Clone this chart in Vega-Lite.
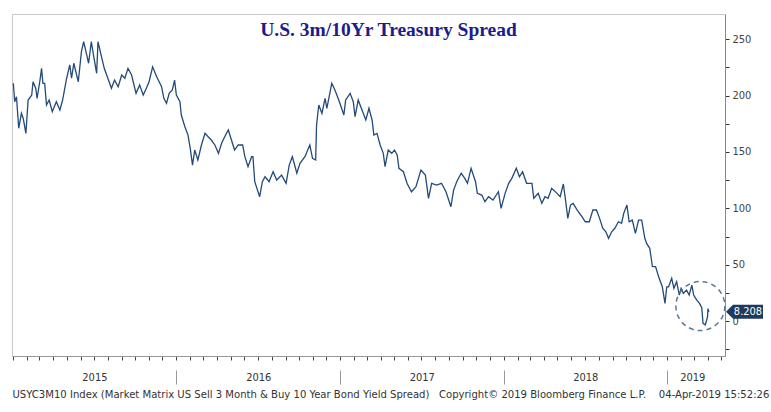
{
  "$schema": "https://vega.github.io/schema/vega-lite/v6.json",
  "width": 713,
  "height": 342,
  "autosize": {"type": "none"},
  "padding": {"left": 12, "top": 14, "right": 46, "bottom": 56},
  "background": "white",
  "config": {
    "view": {"stroke": "#c8c8c8"},
    "font": "DejaVu Sans Condensed, Liberation Sans Narrow, DejaVu Sans",
    "axis": {"labelFont": "DejaVu Sans Condensed, Liberation Sans Narrow, DejaVu Sans", "titleFont": "DejaVu Sans Condensed, Liberation Sans Narrow, DejaVu Sans"}
  },
  "title": {
    "text": "U.S. 3m/10Yr Treasury Spread",
    "font": "Liberation Serif",
    "fontSize": 19.5,
    "fontWeight": "bold",
    "color": "#1c1c8a",
    "anchor": "middle",
    "frame": "group",
    "baseline": "alphabetic",
    "offset": -41,
    "dx": 20
  },
  "datasets": {
    "series": [
      {"date": "2015-01-02", "v": 210.9}, {"date": "2015-01-05", "v": 194.6}, {"date": "2015-01-09", "v": 199.0},
      {"date": "2015-01-14", "v": 171.0}, {"date": "2015-01-20", "v": 184.3}, {"date": "2015-01-24", "v": 179.9},
      {"date": "2015-01-30", "v": 166.5}, {"date": "2015-02-04", "v": 196.1}, {"date": "2015-02-12", "v": 200.5},
      {"date": "2015-02-15", "v": 212.3}, {"date": "2015-02-21", "v": 206.5}, {"date": "2015-02-24", "v": 197.6},
      {"date": "2015-03-02", "v": 212.3}, {"date": "2015-03-06", "v": 224.2}, {"date": "2015-03-09", "v": 210.9},
      {"date": "2015-03-13", "v": 210.9}, {"date": "2015-03-17", "v": 191.7}, {"date": "2015-03-23", "v": 196.1},
      {"date": "2015-03-30", "v": 185.7}, {"date": "2015-04-08", "v": 194.6}, {"date": "2015-04-16", "v": 187.2},
      {"date": "2015-04-22", "v": 196.1}, {"date": "2015-05-01", "v": 215.4}, {"date": "2015-05-08", "v": 227.2},
      {"date": "2015-05-12", "v": 215.4}, {"date": "2015-05-17", "v": 228.7}, {"date": "2015-05-27", "v": 212.3},
      {"date": "2015-06-03", "v": 239.0}, {"date": "2015-06-08", "v": 247.8}, {"date": "2015-06-15", "v": 236.0},
      {"date": "2015-06-19", "v": 228.7}, {"date": "2015-06-25", "v": 247.8}, {"date": "2015-06-30", "v": 236.0},
      {"date": "2015-07-07", "v": 219.8}, {"date": "2015-07-10", "v": 247.8}, {"date": "2015-07-17", "v": 236.0},
      {"date": "2015-07-24", "v": 224.2}, {"date": "2015-08-01", "v": 215.4}, {"date": "2015-08-09", "v": 206.5},
      {"date": "2015-08-16", "v": 213.8}, {"date": "2015-08-24", "v": 207.9}, {"date": "2015-09-01", "v": 218.3},
      {"date": "2015-09-08", "v": 215.4}, {"date": "2015-09-15", "v": 224.2}, {"date": "2015-09-23", "v": 218.3},
      {"date": "2015-10-03", "v": 202.0}, {"date": "2015-10-11", "v": 209.4}, {"date": "2015-10-19", "v": 200.5},
      {"date": "2015-10-26", "v": 206.5}, {"date": "2015-11-01", "v": 212.3}, {"date": "2015-11-09", "v": 225.6},
      {"date": "2015-11-18", "v": 216.8}, {"date": "2015-11-29", "v": 207.9}, {"date": "2015-12-04", "v": 197.6},
      {"date": "2015-12-10", "v": 193.2}, {"date": "2015-12-16", "v": 202.0}, {"date": "2015-12-23", "v": 205.0},
      {"date": "2015-12-28", "v": 213.8}, {"date": "2016-01-01", "v": 200.5}, {"date": "2016-01-09", "v": 194.6},
      {"date": "2016-01-12", "v": 182.8}, {"date": "2016-01-20", "v": 172.4}, {"date": "2016-01-27", "v": 165.0},
      {"date": "2016-02-01", "v": 153.2}, {"date": "2016-02-06", "v": 138.4}, {"date": "2016-02-11", "v": 151.7},
      {"date": "2016-02-18", "v": 142.9}, {"date": "2016-02-26", "v": 156.2}, {"date": "2016-03-05", "v": 166.5},
      {"date": "2016-03-12", "v": 163.5}, {"date": "2016-03-19", "v": 160.6}, {"date": "2016-03-27", "v": 156.2},
      {"date": "2016-04-04", "v": 148.8}, {"date": "2016-04-11", "v": 157.7}, {"date": "2016-04-18", "v": 163.5},
      {"date": "2016-04-26", "v": 169.5}, {"date": "2016-05-03", "v": 160.6}, {"date": "2016-05-10", "v": 151.7},
      {"date": "2016-05-18", "v": 156.2}, {"date": "2016-05-28", "v": 156.2}, {"date": "2016-06-02", "v": 145.8},
      {"date": "2016-06-09", "v": 136.9}, {"date": "2016-06-17", "v": 145.8}, {"date": "2016-06-20", "v": 145.8},
      {"date": "2016-06-24", "v": 123.6}, {"date": "2016-07-05", "v": 110.3}, {"date": "2016-07-11", "v": 123.6},
      {"date": "2016-07-17", "v": 128.0}, {"date": "2016-07-26", "v": 123.6}, {"date": "2016-08-04", "v": 132.5},
      {"date": "2016-08-12", "v": 125.1}, {"date": "2016-08-23", "v": 129.5}, {"date": "2016-09-02", "v": 122.2},
      {"date": "2016-09-09", "v": 138.4}, {"date": "2016-09-16", "v": 145.8}, {"date": "2016-09-26", "v": 131.1},
      {"date": "2016-10-03", "v": 139.9}, {"date": "2016-10-14", "v": 145.8}, {"date": "2016-10-25", "v": 156.2},
      {"date": "2016-10-31", "v": 144.4}, {"date": "2016-11-07", "v": 142.9}, {"date": "2016-11-09", "v": 173.9},
      {"date": "2016-11-14", "v": 191.7}, {"date": "2016-11-21", "v": 184.3}, {"date": "2016-11-28", "v": 197.6},
      {"date": "2016-12-02", "v": 188.7}, {"date": "2016-12-13", "v": 210.9}, {"date": "2016-12-20", "v": 205.0},
      {"date": "2016-12-30", "v": 194.6}, {"date": "2017-01-09", "v": 182.8}, {"date": "2017-01-13", "v": 196.1},
      {"date": "2017-01-23", "v": 202.0}, {"date": "2017-01-30", "v": 194.6}, {"date": "2017-02-03", "v": 181.3},
      {"date": "2017-02-10", "v": 196.1}, {"date": "2017-02-17", "v": 188.7}, {"date": "2017-02-27", "v": 178.4},
      {"date": "2017-03-06", "v": 188.7}, {"date": "2017-03-13", "v": 178.4}, {"date": "2017-03-17", "v": 165.0},
      {"date": "2017-03-24", "v": 166.5}, {"date": "2017-03-31", "v": 156.2}, {"date": "2017-04-07", "v": 148.8},
      {"date": "2017-04-11", "v": 136.9}, {"date": "2017-04-18", "v": 151.7}, {"date": "2017-04-26", "v": 148.8},
      {"date": "2017-05-02", "v": 151.7}, {"date": "2017-05-08", "v": 147.3}, {"date": "2017-05-12", "v": 135.5},
      {"date": "2017-05-22", "v": 132.5}, {"date": "2017-05-30", "v": 122.2}, {"date": "2017-06-09", "v": 114.7},
      {"date": "2017-06-19", "v": 119.2}, {"date": "2017-06-30", "v": 134.0}, {"date": "2017-07-10", "v": 129.5},
      {"date": "2017-07-17", "v": 108.9}, {"date": "2017-07-24", "v": 122.2}, {"date": "2017-08-04", "v": 120.7},
      {"date": "2017-08-15", "v": 122.2}, {"date": "2017-08-25", "v": 114.7}, {"date": "2017-09-05", "v": 101.4},
      {"date": "2017-09-11", "v": 116.2}, {"date": "2017-09-18", "v": 123.6}, {"date": "2017-09-28", "v": 131.1},
      {"date": "2017-10-06", "v": 126.6}, {"date": "2017-10-12", "v": 122.2}, {"date": "2017-10-20", "v": 135.5},
      {"date": "2017-10-30", "v": 123.6}, {"date": "2017-11-03", "v": 113.3}, {"date": "2017-11-13", "v": 111.8},
      {"date": "2017-11-20", "v": 105.9}, {"date": "2017-11-28", "v": 110.3}, {"date": "2017-12-08", "v": 107.4},
      {"date": "2017-12-20", "v": 114.7}, {"date": "2017-12-26", "v": 100.0}, {"date": "2018-01-04", "v": 113.3},
      {"date": "2018-01-12", "v": 122.2}, {"date": "2018-01-19", "v": 126.6}, {"date": "2018-01-29", "v": 135.5},
      {"date": "2018-02-05", "v": 128.0}, {"date": "2018-02-12", "v": 132.5}, {"date": "2018-02-21", "v": 122.2},
      {"date": "2018-03-05", "v": 122.2}, {"date": "2018-03-09", "v": 108.9}, {"date": "2018-03-19", "v": 113.3},
      {"date": "2018-03-27", "v": 104.4}, {"date": "2018-04-03", "v": 110.3}, {"date": "2018-04-10", "v": 108.9},
      {"date": "2018-04-18", "v": 117.7}, {"date": "2018-04-30", "v": 113.3}, {"date": "2018-05-07", "v": 110.3},
      {"date": "2018-05-14", "v": 121.6}, {"date": "2018-05-18", "v": 110.3}, {"date": "2018-05-24", "v": 91.1},
      {"date": "2018-05-30", "v": 102.9}, {"date": "2018-06-05", "v": 104.4}, {"date": "2018-06-14", "v": 98.5},
      {"date": "2018-06-25", "v": 92.5}, {"date": "2018-07-02", "v": 88.1}, {"date": "2018-07-11", "v": 88.1},
      {"date": "2018-07-19", "v": 98.5}, {"date": "2018-07-27", "v": 98.5}, {"date": "2018-08-03", "v": 91.1},
      {"date": "2018-08-10", "v": 82.3}, {"date": "2018-08-17", "v": 79.2}, {"date": "2018-08-23", "v": 73.4},
      {"date": "2018-08-30", "v": 79.2}, {"date": "2018-09-06", "v": 82.3}, {"date": "2018-09-14", "v": 88.1},
      {"date": "2018-09-21", "v": 86.7}, {"date": "2018-09-26", "v": 95.6}, {"date": "2018-10-03", "v": 102.9},
      {"date": "2018-10-08", "v": 88.1}, {"date": "2018-10-15", "v": 89.6}, {"date": "2018-10-22", "v": 77.8},
      {"date": "2018-10-29", "v": 89.6}, {"date": "2018-11-05", "v": 89.6}, {"date": "2018-11-12", "v": 73.4},
      {"date": "2018-11-16", "v": 68.9}, {"date": "2018-11-23", "v": 64.5}, {"date": "2018-11-29", "v": 48.2},
      {"date": "2018-12-06", "v": 48.2}, {"date": "2018-12-14", "v": 37.9}, {"date": "2018-12-21", "v": 30.4},
      {"date": "2018-12-27", "v": 15.7}, {"date": "2018-12-31", "v": 30.4}, {"date": "2019-01-04", "v": 30.4},
      {"date": "2019-01-11", "v": 37.9}, {"date": "2019-01-16", "v": 29.0}, {"date": "2019-01-22", "v": 34.9},
      {"date": "2019-01-28", "v": 23.1}, {"date": "2019-02-01", "v": 29.0}, {"date": "2019-02-06", "v": 24.6},
      {"date": "2019-02-13", "v": 27.5}, {"date": "2019-02-19", "v": 23.1}, {"date": "2019-02-25", "v": 31.9},
      {"date": "2019-03-01", "v": 23.1}, {"date": "2019-03-08", "v": 18.6}, {"date": "2019-03-14", "v": 15.7},
      {"date": "2019-03-19", "v": 12.0}, {"date": "2019-03-22", "v": -2.0}, {"date": "2019-03-27", "v": -3.5},
      {"date": "2019-04-01", "v": 3.8}, {"date": "2019-04-02", "v": 11.0}, {"date": "2019-04-04", "v": 8.208}
    ],
    "circle": [{"date": "2019-03-16", "v": 13.3}],
    "last": [{"date": "2019-05-10", "v": 8.208, "label": "8.208"}]
  },
  "encoding": {
    "y": {
      "field": "v",
      "type": "quantitative",
      "scale": {"domain": [-31, 272.4], "nice": false, "zero": false},
      "axis": {
        "orient": "right",
        "values": [-25, 0, 25, 50, 75, 100, 125, 150, 175, 200, 225, 250],
        "labelExpr": "datum.value % 50 === 0 ? datum.label : ''",
        "tickSize": 4,
        "tickColor": "#333",
        "domainColor": "#888",
        "labelColor": "#444",
        "labelFontSize": 11,
        "labelPadding": 3,
        "grid": false,
        "title": null
      }
    }
  },
  "layer": [
    {
      "data": {"name": "series"},
      "mark": {"type": "line", "color": "#234a78", "strokeWidth": 1.3},
      "encoding": {
        "x": {
          "field": "date",
          "type": "temporal",
          "scale": {"type": "utc", "domain": [{"year": 2014, "month": 12, "date": 30, "utc": true}, {"year": 2019, "month": 5, "date": 10, "utc": true}]},
          "axis": {
            "orient": "bottom",
            "tickCount": {"interval": "month", "step": 1},
            "labels": false,
            "tickSize": 4,
            "tickColor": "#444",
            "domainColor": "#999",
            "grid": false,
            "title": null
          }
        }
      }
    },
    {
      "data": {"name": "circle"},
      "mark": {"type": "point", "shape": "circle", "size": 2400, "filled": false, "stroke": "#5b7596", "strokeWidth": 1.5, "strokeDash": [5, 4], "opacity": 1},
      "encoding": {
        "x": {
          "field": "date",
          "type": "temporal",
          "scale": {"type": "utc", "domain": [{"year": 2014, "month": 12, "date": 30, "utc": true}, {"year": 2019, "month": 5, "date": 10, "utc": true}]},
          "axis": {
            "orient": "bottom",
            "values": [{"year": 2016, "month": 1, "date": 1, "utc": true}, {"year": 2017, "month": 1, "date": 1, "utc": true}, {"year": 2018, "month": 1, "date": 1, "utc": true}, {"year": 2019, "month": 1, "date": 1, "utc": true}],
            "labels": false,
            "domain": false,
            "tickSize": 14,
            "offset": 14,
            "tickColor": "#999",
            "grid": false,
            "title": null
          }
        }
      }
    },
    {
      "data": {"name": "last"},
      "mark": {"type": "point", "shape": "M1,0L8,-7L38,-7L38,7L8,7Z", "size": 4, "filled": true, "fill": "#1e3a5c", "strokeWidth": 0, "opacity": 1},
      "encoding": {
        "x": {
          "field": "date",
          "type": "temporal",
          "scale": {"type": "utc", "domain": [{"year": 2014, "month": 12, "date": 30, "utc": true}, {"year": 2019, "month": 5, "date": 10, "utc": true}]},
          "axis": {
            "orient": "bottom",
            "values": [{"year": 2015, "month": 7, "date": 2, "utc": true}, {"year": 2016, "month": 7, "date": 2, "utc": true}, {"year": 2017, "month": 7, "date": 2, "utc": true}, {"year": 2018, "month": 7, "date": 2, "utc": true}, {"year": 2019, "month": 2, "date": 26, "utc": true}],
            "labelExpr": "utcFormat(datum.value, '%Y')",
            "labelFlush": false,
            "labelOverlap": false,
            "ticks": false,
            "domain": false,
            "labelPadding": 15,
            "labelFontSize": 11,
            "labelColor": "#333",
            "grid": false,
            "title": "USYC3M10 Index (Market Matrix US Sell 3 Month & Buy 10 Year Bond Yield Spread)\u00a0\u00a0 Copyright\u00a9 2019 Bloomberg Finance L.P.\u00a0\u00a0\u00a0 04-Apr-2019 15:52:26",
            "titleX": 0,
            "titleY": 32,
            "titleAlign": "left",
            "titleAnchor": "start",
            "titleBaseline": "top",
            "titleFontWeight": "normal",
            "titleFontSize": 11.2,
            "titleColor": "#333"
          }
        }
      }
    },
    {
      "data": {"name": "last"},
      "mark": {"type": "text", "dx": 23, "align": "center", "baseline": "middle", "color": "white", "fontSize": 11},
      "encoding": {
        "x": {
          "field": "date",
          "type": "temporal",
          "scale": {"type": "utc", "domain": [{"year": 2014, "month": 12, "date": 30, "utc": true}, {"year": 2019, "month": 5, "date": 10, "utc": true}]},
          "axis": null
        },
        "text": {"field": "label"}
      }
    }
  ],
  "resolve": {"axis": {"x": "independent"}}
}
